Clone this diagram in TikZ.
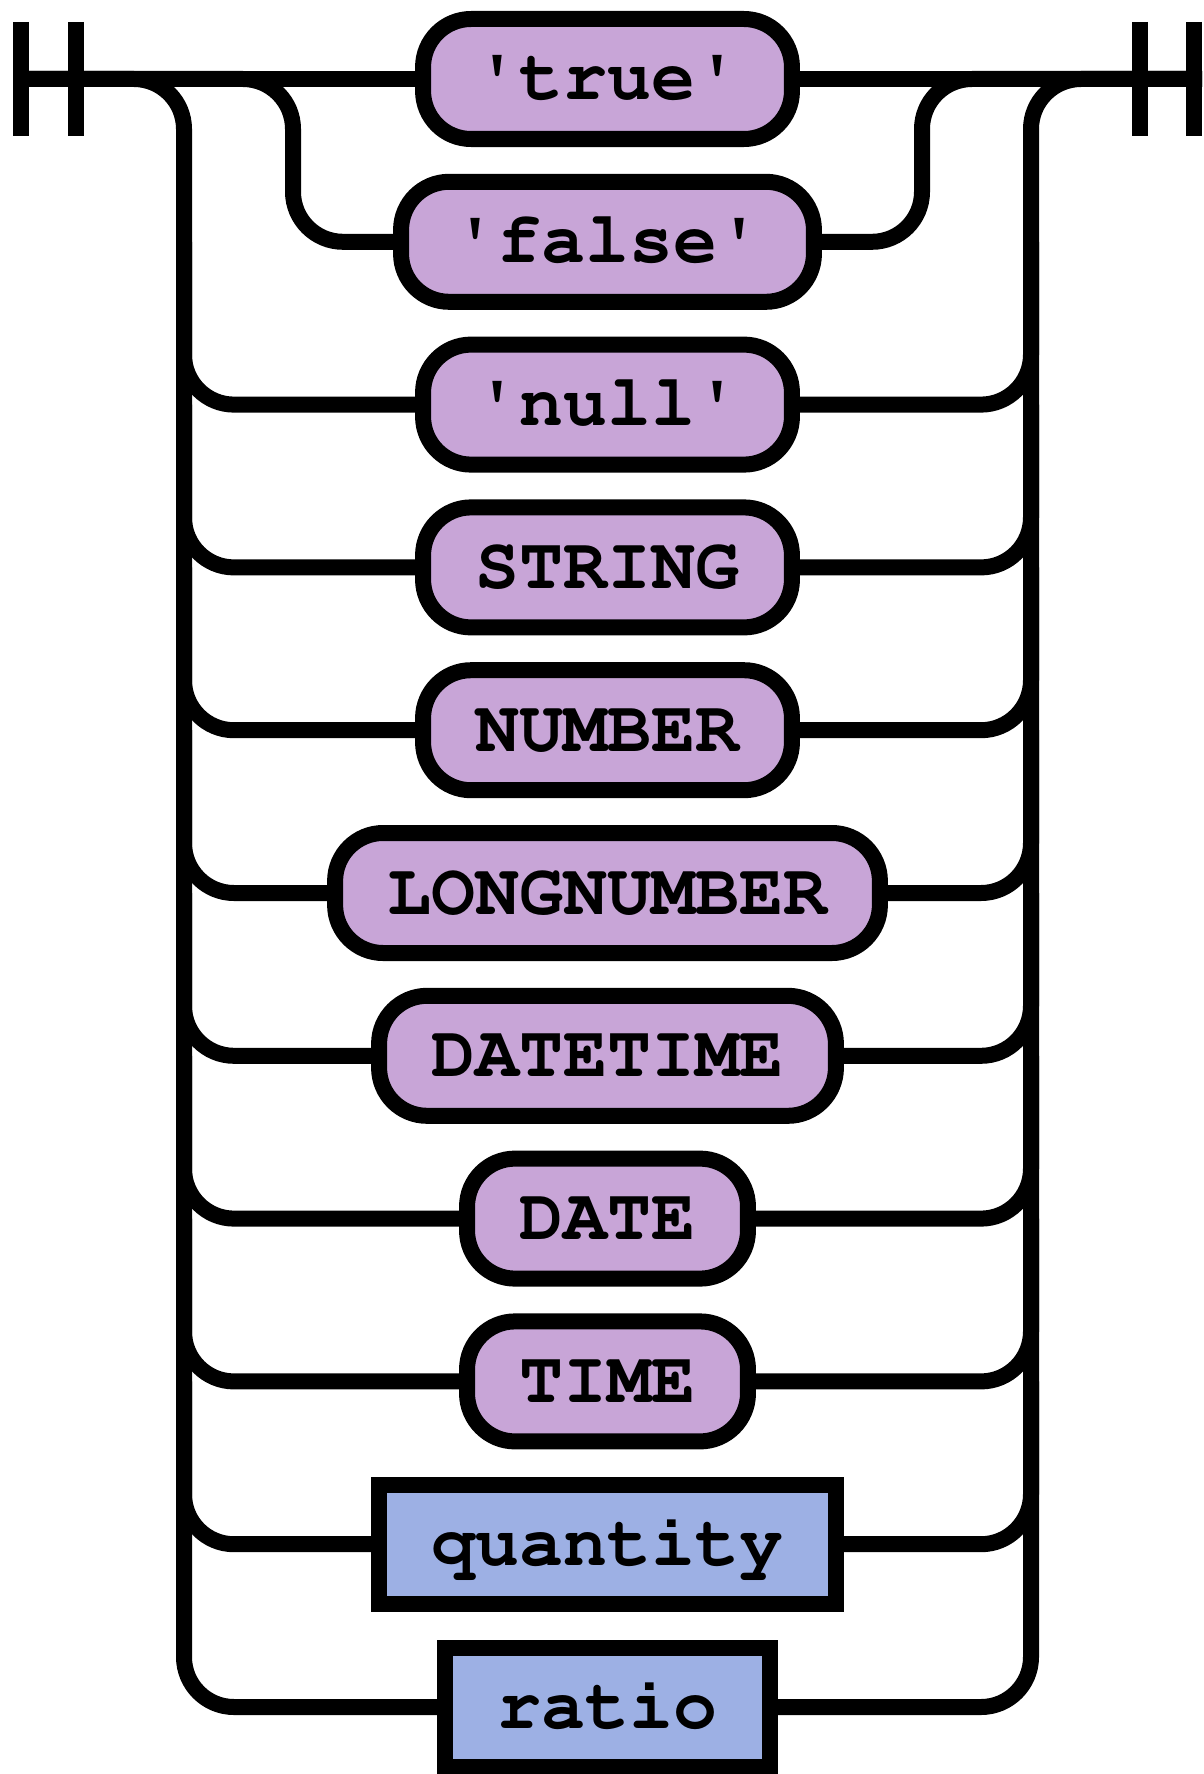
\documentclass[tikz,border=0pt]{standalone}
\usepackage[T1,TU]{fontenc}
\usepackage{xcolor}
\usetikzlibrary{math}

\definecolor{termfill}{RGB}{200,165,215}
\definecolor{rulefill}{RGB}{157,176,228}

\newcommand{\railfont}{\fontencoding{T1}\fontfamily{pcr}\fontseries{b}\fontshape{n}\fontsize{73.3}{80}\selectfont}

\tikzset{
  rail/.style={line width=16pt, rounded corners=50pt},
  bar/.style={line width=16pt},
  term/.style={draw, line width=16pt, fill=termfill, rounded corners=48pt,
    minimum height=120pt, inner xsep=52.5pt, inner ysep=0pt,
    text height=42pt, text depth=0pt, font=\railfont},
  nonterm/.style={draw, line width=16pt, fill=rulefill,
    minimum height=119pt, inner xsep=52.5pt, inner ysep=0pt,
    text height=42pt, text depth=0pt, font=\railfont},
}

\begin{document}
\begin{tikzpicture}[x=1pt, y=-1pt]
\tikzmath{
\xc=607.5;
\dy=162.8;
\xL=184; \xR=1031;
\xfL=293; \xfR=922;
}
\useasboundingbox (0,0) rectangle (1203,1774);

% end bars
\coordinate (start) at (13,79);
\coordinate (stop) at (1202,79);
\draw[bar] (21,22) -- (21,136) (75.5,22) -- (75.5,136);
\draw[bar] (1139.5,22) -- (1139.5,136) (1194,22) -- (1194,136);

% choices
\node[term] (true) at (\xc,79) {\textquotesingle true\textquotesingle};
\node[term] (false) at (\xc,{79+\dy}) {\textquotesingle false\textquotesingle};
\node[term] (null) at (\xc,{79+2*\dy}) {\textquotesingle null\textquotesingle};
\node[term] (string) at (\xc,{79+3*\dy}) {STRING};
\node[term] (number) at (\xc,{79+4*\dy}) {NUMBER};
\node[term] (longnumber) at (\xc,{79+5*\dy}) {LONGNUMBER};
\node[term] (datetime) at (\xc,{79+6*\dy}) {DATETIME};
\node[term] (date) at (\xc,{79+7*\dy}) {DATE};
\node[term] (time) at (\xc,{79+8*\dy}) {TIME};
\node[nonterm] (quantity) at (\xc,{79+9*\dy}) {quantity};
\node[nonterm] (ratio) at (\xc,{79+10*\dy}) {ratio};

\draw[rail] (start) -- (true);
\draw[rail] (true) -- (stop);

\draw[rail] (start) -- (\xfL,79) -- (\xfL,{79+\dy}) -- (false);
\draw[rail] (false) -- (\xfR,{79+\dy}) -- (\xfR,79) -- (stop);

\draw[rail] (start) -- (\xL,79) -- (\xL,{79+10*\dy}) -- (ratio);
\draw[rail] (ratio) -- (\xR,{79+10*\dy}) -- (\xR,79) -- (stop);

\foreach \n [count=\i from 2] in {null,string,number,longnumber,datetime,date,time,quantity} {
  \draw[rail] (\xL,{79+(\i-1)*\dy}) -- (\xL,{79+\i*\dy}) -- (\n);
  \draw[rail] (\n) -- (\xR,{79+\i*\dy}) -- (\xR,{79+(\i-1)*\dy});
}
\end{tikzpicture}
\end{document}
